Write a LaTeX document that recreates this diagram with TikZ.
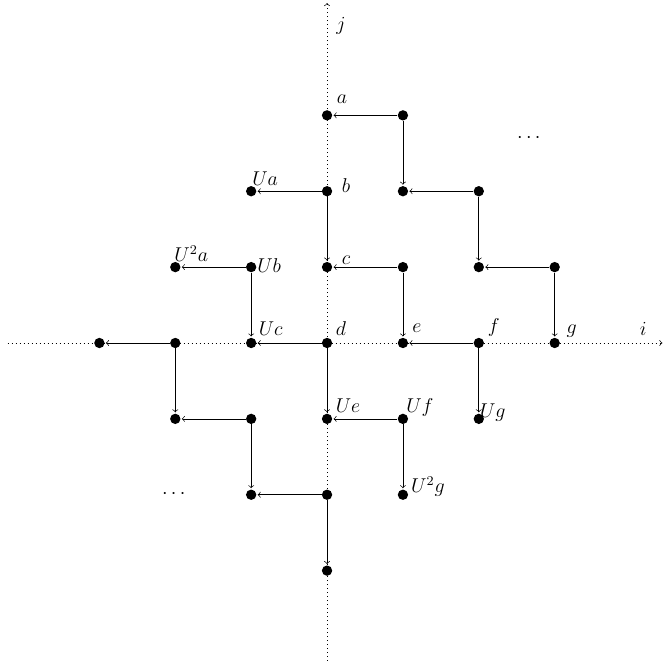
\documentclass[tikz,border=0pt]{standalone}
\begin{document}
\begin{tikzpicture}[x=1.6cm,y=1.6cm,font=\large,
  dot/.style={circle,fill,inner sep=0pt,minimum size=6.2pt},
  lbl/.style n args={3}{label={[inner sep=0pt,xshift=#1,yshift=#2]center:#3}},
  arr/.style={->,shorten >=0.6pt},
  axis/.style={dotted,->}]
\useasboundingbox (-4.31,-4.27) rectangle (4.43,4.52);
\draw[axis] (-4.21,0) -- (4.42,0);
\draw[axis] (0,-4.19) -- (0,4.48);
\node (ilab) at (4.167,0.185) {$i$};
\node (jlab) at (0.185,4.18) {$j$};
% nodes
\node[dot,lbl={9pt}{9.6pt}{$a$}] (a) at (0,3) {};
\node[dot] (p13) at (1,3) {};
\node[dot] (p12) at (1,2) {};
\node[dot] (p22) at (2,2) {};
\node[dot] (p21) at (2,1) {};
\node[dot] (p31) at (3,1) {};
\node[dot,lbl={8.4pt}{7.4pt}{$Ua$}] (Ua) at (-1,2) {};
\node[dot,lbl={11.4pt}{3.6pt}{$b$}] (b) at (0,2) {};
\node[dot,lbl={9.6pt}{8.2pt}{$U^2a$}] (U2a) at (-2,1) {};
\node[dot,lbl={10.8pt}{0.8pt}{$Ub$}] (Ub) at (-1,1) {};
\node[dot,lbl={11.4pt}{4.2pt}{$c$}] (c) at (0,1) {};
\node[dot] (p11) at (1,1) {};
\node[dot] (m3) at (-3,0) {};
\node[dot] (m2) at (-2,0) {};
\node[dot,lbl={11.7pt}{8.4pt}{$Uc$}] (Uc) at (-1,0) {};
\node[dot,lbl={8.4pt}{8.4pt}{$d$}] (d) at (0,0) {};
\node[dot,lbl={8.4pt}{9pt}{$e$}] (e) at (1,0) {};
\node[dot,lbl={9pt}{9pt}{$f$}] (f) at (2,0) {};
\node[dot,lbl={10.2pt}{7.2pt}{$g$}] (g) at (3,0) {};
\node[dot] (q21) at (-2,-1) {};
\node[dot] (q11) at (-1,-1) {};
\node[dot,lbl={12.6pt}{7.8pt}{$Ue$}] (Ue) at (0,-1) {};
\node[dot,lbl={10.2pt}{6.6pt}{$Uf$}] (Uf) at (1,-1) {};
\node[dot,lbl={8.4pt}{3.6pt}{$Ug$}] (Ug) at (2,-1) {};
\node[dot] (q12) at (-1,-2) {};
\node[dot] (q02) at (0,-2) {};
\node[dot,lbl={15pt}{4.8pt}{$U^2g$}] (U2g) at (1,-2) {};
\node[dot] (q03) at (0,-3) {};
\node (dots1) at (2.66,2.70) {$\cdots$};
\node (dots2) at (-2.02,-1.99) {$\cdots$};
% edges
\draw[arr] (p13) -- (a);
\draw[arr] (p13) -- (p12);
\draw[arr] (p22) -- (p12);
\draw[arr] (p22) -- (p21);
\draw[arr] (p31) -- (p21);
\draw[arr] (p31) -- (g);
\draw[arr] (b) -- (Ua);
\draw[arr] (b) -- (c);
\draw[arr] (Ub) -- (U2a);
\draw[arr] (Ub) -- (Uc);
\draw[arr] (p11) -- (c);
\draw[arr] (p11) -- (e);
\draw[arr] (d) -- (Uc);
\draw[arr] (f) -- (e);
\draw[arr] (d) -- (Ue);
\draw[arr] (f) -- (Ug);
\draw[arr] (Uf) -- (Ue);
\draw[arr] (Uf) -- (U2g);
\draw[arr] (m2) -- (m3);
\draw[arr] (m2) -- (q21);
\draw[arr] (q11) -- (q21);
\draw[arr] (q11) -- (q12);
\draw[arr] (q02) -- (q12);
\draw[arr] (q02) -- (q03);
\end{tikzpicture}
\end{document}
